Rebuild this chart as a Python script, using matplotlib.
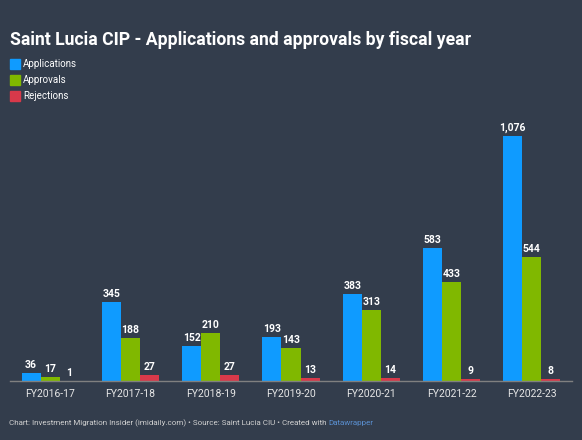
import matplotlib.pyplot as plt
import numpy as np

# Fiscal years
years = ['FY2016-17', 'FY2017-18', 'FY2018-19', 'FY2019-20',
         'FY2020-21', 'FY2021-22', 'FY2022-23']

applications = [36, 345, 152, 193, 383, 583, 1076]
approvals = [17, 188, 210, 143, 313, 433, 544]
rejections = [1, 27, 27, 13, 14, 9, 8]

series_names = ['Applications', 'Approvals', 'Rejections']
colors = ['#0f9bff', '#80b800', '#d8394a']
bg = '#333d4c'

plt.rcParams['font.family'] = ['Roboto', 'DejaVu Sans']

fig = plt.figure(figsize=(5.82, 4.40), dpi=100, facecolor=bg)
ax = fig.add_axes([10 / 582, 59 / 440, 562 / 582, 262 / 440])
ax.set_facecolor(bg)

x = np.arange(len(years))
w = 0.237
for i, (vals, c) in enumerate(zip([applications, approvals, rejections], colors)):
    pos = x + (i - 1) * w
    ax.bar(pos, vals, width=w, color=c, linewidth=0)
    for px, v in zip(pos, vals):
        ax.text(px, v + 14, f'{v:,}', ha='center', va='bottom',
                color='white', fontsize=7.5, fontweight='bold')

ax.set_xlim(-0.5, 6.5)
ax.set_ylim(0, 1150)
ax.set_yticks([])
ax.set_xticks(x)
ax.set_xticklabels(years, color='#e6e6e6', fontsize=7.5)
ax.tick_params(axis='x', length=0, pad=6)
for s in ['top', 'right', 'left']:
    ax.spines[s].set_visible(False)
ax.spines['bottom'].set_color('#808080')
ax.spines['bottom'].set_linewidth(1)

# Title
fig.text(10 / 582, 1 - 40 / 440, 'Saint Lucia CIP - Applications and approvals by fiscal year',
         color='white', fontsize=12.7, fontweight='bold', va='center', ha='left')

# Legend
for i, (name, c) in enumerate(zip(series_names, colors)):
    yc = 64 + i * 16
    fig.patches.append(plt.Rectangle((10 / 582, 1 - (yc + 5) / 440), 10 / 582, 10 / 440,
                                     transform=fig.transFigure, color=c, figure=fig))
    fig.text(23 / 582, 1 - yc / 440, name, color='white', fontsize=7,
             va='center', ha='left')

# Footer
foot = fig.text(9 / 582, 1 - 423 / 440,
                'Chart: Investment Migration Insider (imidaily.com) \u2022 Source: Saint Lucia CIU \u2022 Created with ',
                color='#d0d0d0', fontsize=5.8, va='center', ha='left')
fig.canvas.draw()
bb = foot.get_window_extent()
fig.text(bb.x1 / fig.bbox.width, 1 - 423 / 440, 'Datawrapper', color='#5a8fd0',
         fontsize=5.8, va='center', ha='left')

fig.savefig('out.png', dpi=100, facecolor=bg)
